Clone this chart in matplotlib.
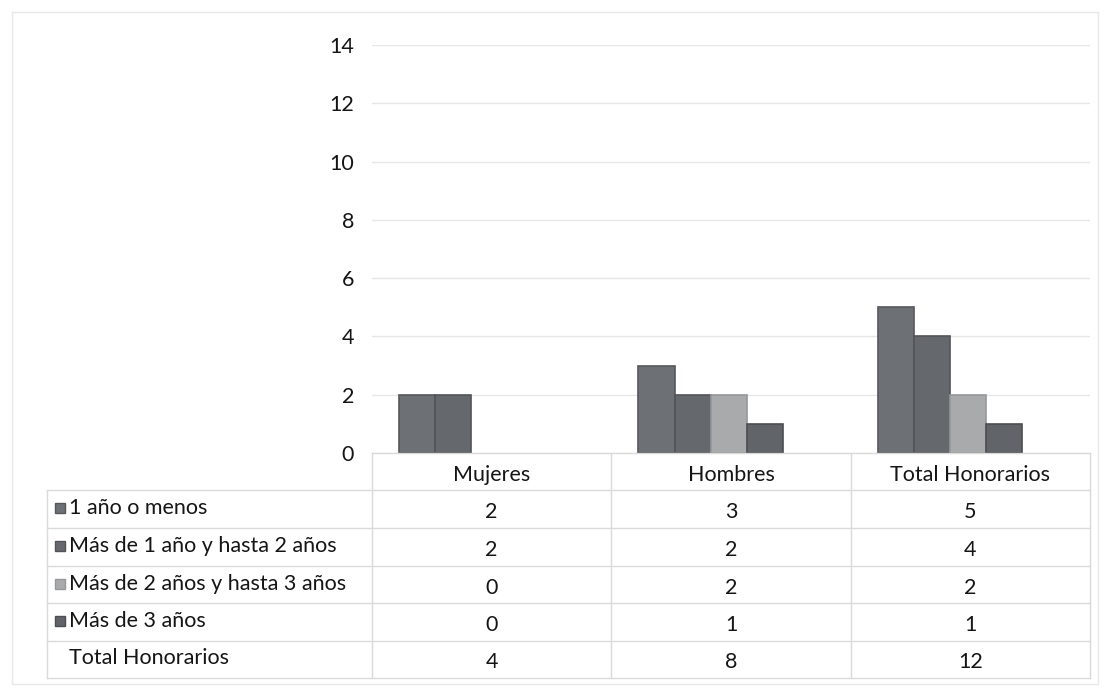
import matplotlib
matplotlib.use("Agg")
import matplotlib.pyplot as plt
import numpy as np

categories = ["Mujeres", "Hombres", "Total Honorarios"]
series_names = ["1 año o menos", "Más de 1 año y hasta 2 años",
                "Más de 2 años y hasta 3 años", "Más de 3 años"]
s1 = [2, 3, 5]
s2 = [2, 2, 4]
s3 = [0, 2, 2]
s4 = [0, 1, 1]
totals = [4, 8, 12]
total_label = "Total Honorarios"
yticks = [0, 2, 4, 6, 8, 10, 12, 14]

series = [s1, s2, s3, s4]
colors = ["#6d7075", "#65686d", "#a9aaac", "#616468"]
edges = ["#55575b", "#525458", "#96979a", "#4c4e52"]

plt.rcParams['font.family'] = ['Lato', 'DejaVu Sans']
W, H = 1107, 691
fig = plt.figure(figsize=(W / 100, H / 100), dpi=100)
fig.patch.set_facecolor("white")

# pixel geometry
L, R = 372, 1090
Y0, Y14 = 453, 45
ax = fig.add_axes([L / W, 1 - Y0 / H, (R - L) / W, (Y0 - Y14) / H])
ax.set_xlim(-0.5, 2.5)
ax.set_ylim(0, 14)
ax.set_yticks(yticks)
ax.tick_params(axis='y', length=0, pad=13, labelsize=15.5, labelcolor="#151515")
ax.set_xticks([])
for sp in ax.spines.values():
    sp.set_visible(False)
ax.grid(axis='y', color="#e6e6e6", linewidth=1)
ax.set_axisbelow(True)

w = 0.151
shift = -0.085
x = np.arange(len(categories))
for i, (vals, c, e) in enumerate(zip(series, colors, edges)):
    lws = [1.2 if v > 0 else 0 for v in vals]
    ax.bar(x + (i - 1.5) * w + shift, vals, width=w, color=c,
           edgecolor=e, linewidth=lws, zorder=3)

# table overlay in pixel coordinates
tax = fig.add_axes([0, 0, 1, 1])
tax.set_xlim(0, W)
tax.set_ylim(H, 0)
tax.axis("off")
lc = "#dadada"
TL = 47
col_edges = np.linspace(L, R, len(categories) + 1)
row_tops = [453, 490, 528, 566, 603, 641, 678]
tax.plot([L, R], [row_tops[0]] * 2, color=lc, lw=1)
for yy in row_tops[1:]:
    tax.plot([TL, R], [yy] * 2, color=lc, lw=1)
tax.plot([TL, TL], [row_tops[1], row_tops[-1]], color=lc, lw=1)
for xx in col_edges:
    tax.plot([xx, xx], [row_tops[0], row_tops[-1]], color=lc, lw=1)
tax.plot([12, 1098, 1098, 12, 12], [12, 12, 684, 684, 12], color="#e8e8e8", lw=1)

centers = (col_edges[:-1] + col_edges[1:]) / 2
fs = 15.5
tc = "#151515"
for cx, cat in zip(centers, categories):
    tax.text(cx, (row_tops[0] + row_tops[1]) / 2 + 3, cat, ha='center', va='center',
             fontsize=fs, color=tc)
rows = series + [totals]
names = series_names + [total_label]
for r, (vals, name) in enumerate(zip(rows, names)):
    yc = (row_tops[r + 1] + row_tops[r + 2]) / 2
    if r < len(series):
        tax.add_patch(plt.Rectangle((55, yc - 6), 10, 10, facecolor=colors[r],
                                    edgecolor=edges[r], lw=1))
    tax.text(69, yc - 1, name, ha='left', va='center', fontsize=fs, color=tc)
    for cx, v in zip(centers, vals):
        tax.text(cx, yc + 3, str(v), ha='center', va='center', fontsize=fs, color=tc)

fig.savefig("out.png", dpi=100, facecolor="white")
